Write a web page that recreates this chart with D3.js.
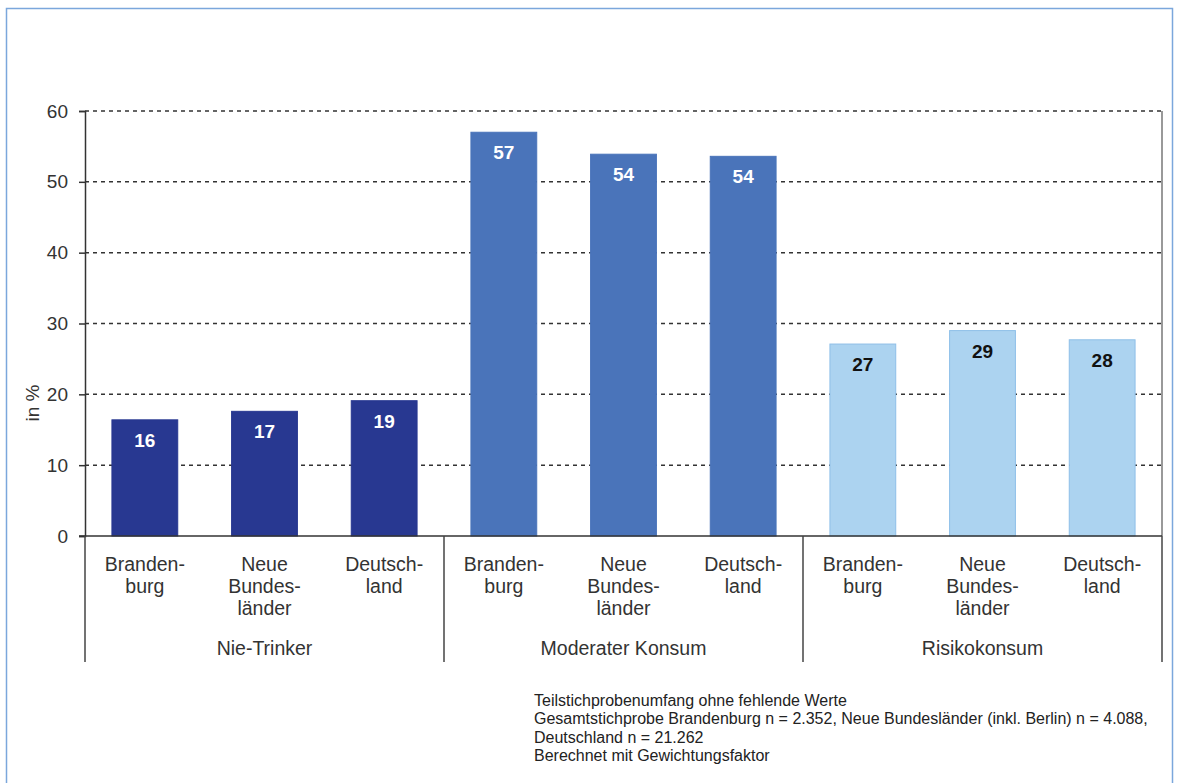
<!DOCTYPE html>
<html><head><meta charset="utf-8">
<script src="https://cdn.jsdelivr.net/npm/d3@7/dist/d3.min.js"></script>
<style>body{margin:0;background:#fff;}svg{display:block;font-family:"Liberation Sans",Arial,sans-serif;}</style>
</head><body>
<svg id="c" width="1177" height="783"></svg>
<script>
const groups = ["Nie-Trinker", "Moderater Konsum", "Risikokonsum"];
const regions = [["Branden-", "burg"], ["Neue", "Bundes-", "länder"], ["Deutsch-", "land"]];
const nieTrinker = [16.4, 17.6, 19.1];
const moderat = [57.0, 53.9, 53.6];
const risiko = [27.1, 29.0, 27.7];
const valueLabels = [[16, 17, 19], [57, 54, 54], [27, 29, 28]];
const yTicks = [0, 10, 20, 30, 40, 50, 60];
const footnote = ["Teilstichprobenumfang ohne fehlende Werte",
  "Gesamtstichprobe Brandenburg n = 2.352, Neue Bundesländer (inkl. Berlin) n = 4.088,",
  "Deutschland n = 21.262",
  "Berechnet mit Gewichtungsfaktor"];

const seriesVals = [nieTrinker, moderat, risiko];
const fills = ["#283891", "#4a74ba", "#acd3f0"];
const strokes = ["#283891", "#4a74ba", "#8ebfe8"];
const labelColors = ["#ffffff", "#ffffff", "#111111"];

const data = [];
groups.forEach((g, gi) => regions.forEach((r, ri) => data.push({g, gi, ri, key: gi + "-" + ri, lines: r, v: seriesVals[gi][ri], lab: valueLabels[gi][ri]})));

const svg = d3.select("#c");
// outer frame
svg.append("rect").attr("x", 6.5).attr("y", 8.5).attr("width", 1166).attr("height", 800)
  .attr("fill", "none").attr("stroke", "#7ba7dc").attr("stroke-width", 1.5);

const L = 85, R = 1162, T = 111, B = 536;
const x = d3.scaleBand().domain(data.map(d => d.key)).range([L, R]).paddingInner(0.45).paddingOuter(0.225);
const y = d3.scaleLinear().domain([0, 60]).range([B, T]);

// grid lines
svg.append("g").selectAll("line").data(yTicks.filter(t => t > 0)).join("line")
  .attr("x1", L).attr("x2", R).attr("y1", d => y(d)).attr("y2", d => y(d))
  .attr("stroke", "#333").attr("stroke-width", 1.5).attr("stroke-dasharray", "4,4");

// right border
svg.append("line").attr("x1", R).attr("x2", R).attr("y1", T).attr("y2", B).attr("stroke", "#777").attr("stroke-width", 1.5);

// bars
svg.append("g").selectAll("rect").data(data).join("rect")
  .attr("x", d => x(d.key)).attr("width", x.bandwidth())
  .attr("y", d => y(d.v)).attr("height", d => B - y(d.v))
  .attr("fill", d => fills[d.gi]).attr("stroke", d => strokes[d.gi]).attr("stroke-width", 1);

// value labels
svg.append("g").selectAll("text").data(data).join("text")
  .attr("x", d => x(d.key) + x.bandwidth() / 2).attr("y", d => y(d.v) + 27)
  .attr("text-anchor", "middle").attr("font-size", 19).attr("font-weight", "bold")
  .attr("fill", d => labelColors[d.gi]).text(d => d.lab);

// y axis
const yAxis = d3.axisLeft(y).tickValues(yTicks).tickSize(6).tickPadding(11);
const ya = svg.append("g").attr("transform", `translate(${L},0)`).call(yAxis);
ya.select(".domain").attr("stroke", "#333").attr("stroke-width", 1.5);
ya.selectAll(".tick line").attr("stroke", "#333").attr("stroke-width", 1.5);
ya.selectAll(".tick text").attr("font-size", 19).attr("fill", "#333").attr("font-family", "Liberation Sans, Arial, sans-serif");

svg.append("text").attr("transform", "translate(39,403) rotate(-90)").attr("text-anchor", "middle")
  .attr("font-size", 19).attr("fill", "#333").text("in %");

// x axis baseline
svg.append("line").attr("x1", L - 6).attr("x2", R).attr("y1", B).attr("y2", B).attr("stroke", "#333").attr("stroke-width", 1.5);

// category labels
const cl = svg.append("g").selectAll("text").data(data).join("text")
  .attr("text-anchor", "middle").attr("font-size", 19.5).attr("fill", "#333");
cl.each(function(d) {
  const t = d3.select(this);
  d.lines.forEach((ln, i) => t.append("tspan").attr("x", x(d.key) + x.bandwidth() / 2).attr("y", 571 + i * 22).text(ln));
});

// group separators
const sepX = [L, (x(data[2].key) + x.bandwidth() + x(data[3].key)) / 2, (x(data[5].key) + x.bandwidth() + x(data[6].key)) / 2, R];
svg.append("g").selectAll("line").data(sepX).join("line")
  .attr("x1", d => d).attr("x2", d => d).attr("y1", B).attr("y2", 662)
  .attr("stroke", "#444").attr("stroke-width", 1.5);

// group labels
svg.append("g").selectAll("text").data(groups).join("text")
  .attr("x", (d, i) => (sepX[i] + sepX[i + 1]) / 2).attr("y", 655)
  .attr("text-anchor", "middle").attr("font-size", 19.5).attr("fill", "#333").text(d => d);

// footnote
svg.append("g").selectAll("text").data(footnote).join("text")
  .attr("x", 534).attr("y", (d, i) => 706 + i * 18.3)
  .attr("font-size", 16).attr("fill", "#222").text(d => d);
</script>
</body></html>
